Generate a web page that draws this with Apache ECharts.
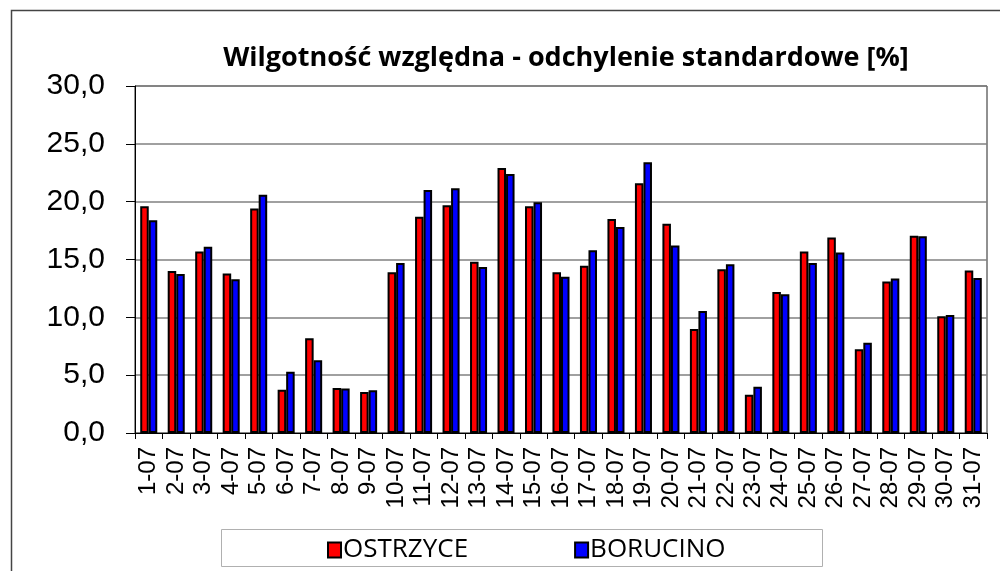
<!DOCTYPE html>
<html>
<head>
<meta charset="utf-8">
<script src="https://cdn.jsdelivr.net/npm/echarts@6/dist/echarts.min.js"></script>
<style>
  html, body { margin: 0; padding: 0; background: #fff; }
  #chart { width: 1000px; height: 571px; }
</style>
</head>
<body>
<div id="chart"></div>
<script>
// Days of July
const days = ['1-07','2-07','3-07','4-07','5-07','6-07','7-07','8-07','9-07','10-07',
  '11-07','12-07','13-07','14-07','15-07','16-07','17-07','18-07','19-07','20-07',
  '21-07','22-07','23-07','24-07','25-07','26-07','27-07','28-07','29-07','30-07','31-07'];

// Standard deviation of relative humidity [%]
const ostrzyce = [19.6, 14.0, 15.7, 13.8, 19.4, 3.75, 8.2, 3.9, 3.55, 13.9,
  18.7, 19.7, 14.8, 22.9, 19.6, 13.9, 14.45, 18.5, 21.6, 18.1,
  9.0, 14.15, 3.3, 12.2, 15.7, 16.9, 7.25, 13.1, 17.05, 10.1, 14.05];
const borucino = [18.4, 13.75, 16.1, 13.3, 20.6, 5.3, 6.3, 3.85, 3.7, 14.7,
  21.0, 21.15, 14.35, 22.4, 19.95, 13.5, 15.8, 17.8, 23.4, 16.2,
  10.55, 14.6, 4.0, 12.0, 14.7, 15.6, 7.8, 13.35, 17.0, 10.2, 13.4];

const seriesNames = ['OSTRZYCE', 'BORUCINO'];
const yMin = 0, yMax = 30, yStep = 5;

const chart = echarts.init(document.getElementById('chart'), null, { renderer: 'canvas' });

chart.setOption({
  animation: false,
  backgroundColor: '#fff',
  title: {
    text: 'Wilgotność względna - odchylenie standardowe [%]',
    left: 561,
    top: 40,
    textAlign: 'center',
    textStyle: { fontFamily: 'Open Sans', fontWeight: 'bold', fontSize: 27, color: '#000' }
  },
  graphic: [
    {
      type: 'rect', silent: true, z: -1,
      shape: { x: 11.5, y: 10.5, width: 1000, height: 600 },
      style: { fill: 'none', stroke: '#444', lineWidth: 1.5 }
    },
    {
      type: 'rect', silent: true, z: -1,
      shape: { x: 221.5, y: 529.5, width: 601, height: 37 },
      style: { fill: '#fff', stroke: '#b0b0b0', lineWidth: 1 }
    }
  ],
  legend: {
    data: seriesNames,
    left: 322,
    top: 532,
    itemWidth: 13,
    itemHeight: 15,
    itemGap: 106,
    icon: 'rect',
    textStyle: { fontFamily: 'Open Sans', fontSize: 26, color: '#000', padding: [0, 0, 0, -3] }
  },
  grid: {
    left: 135, right: 13, top: 86, bottom: 138,
    show: true, borderColor: '#222', borderWidth: 1
  },
  xAxis: {
    type: 'category',
    data: days,
    axisLine: { lineStyle: { color: '#000', width: 1 } },
    axisTick: { show: true, length: 6, lineStyle: { color: '#000' } },
    axisLabel: {
      rotate: 90, interval: 0, margin: 14,
      fontFamily: 'Liberation Sans', fontSize: 24, color: '#000'
    },
    splitLine: { show: false }
  },
  yAxis: {
    type: 'value',
    min: yMin, max: yMax, interval: yStep,
    axisLine: { show: true, lineStyle: { color: '#000', width: 1 } },
    axisTick: { show: true, length: 9, lineStyle: { color: '#000' } },
    axisLabel: {
      margin: 30,
      fontFamily: 'Liberation Sans', fontSize: 30, color: '#000',
      formatter: v => v.toFixed(1).replace('.', ',')
    },
    splitLine: { lineStyle: { color: '#808080', width: 1.5 } }
  },
  series: [
    {
      name: seriesNames[0], type: 'bar', data: ostrzyce,
      barGap: '0%', barCategoryGap: '38%',
      itemStyle: { color: '#ff0000', borderColor: '#000', borderWidth: 2 }
    },
    {
      name: seriesNames[1], type: 'bar', data: borucino,
      barGap: '0%', barCategoryGap: '38%',
      itemStyle: { color: '#0000ff', borderColor: '#000', borderWidth: 2 }
    }
  ]
});
</script>
</body>
</html>
